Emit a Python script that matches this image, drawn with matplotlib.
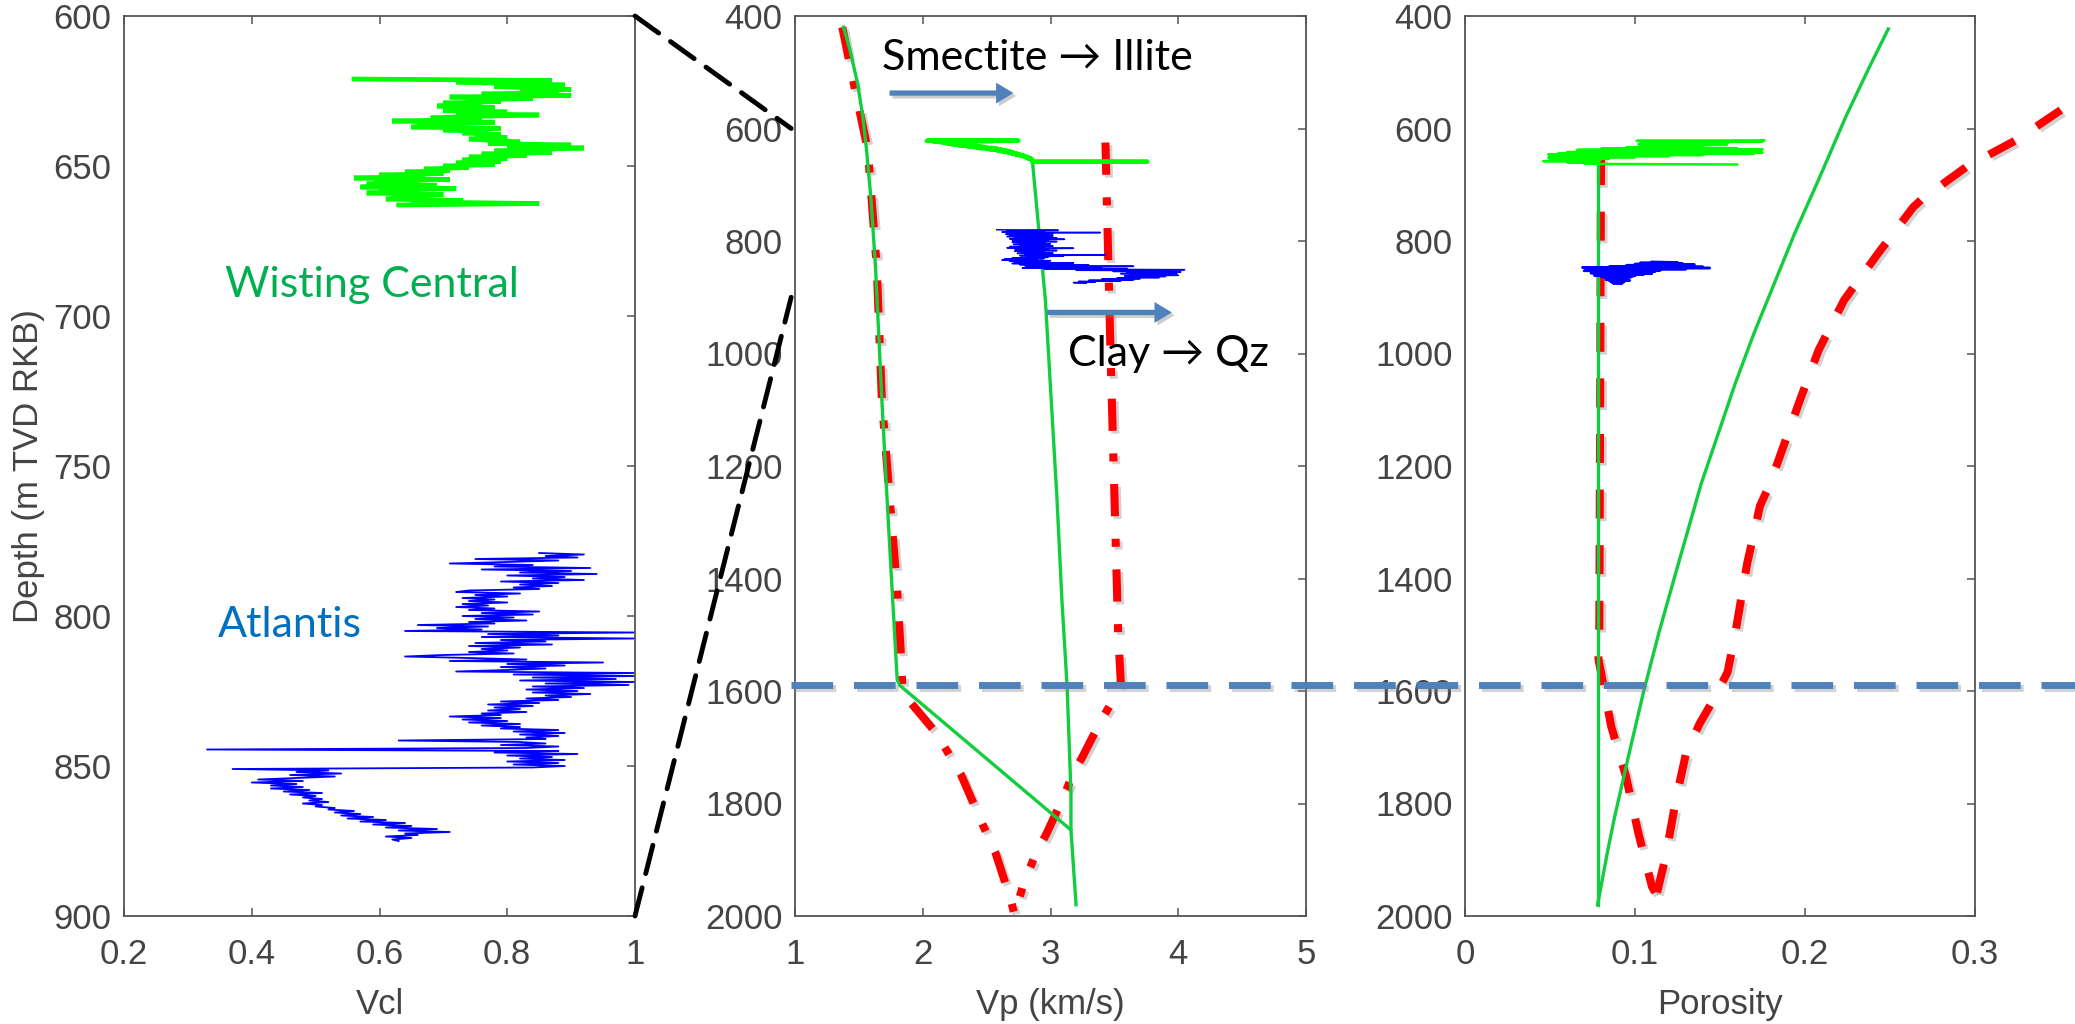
import numpy as np
import matplotlib
matplotlib.use("Agg")
import matplotlib.pyplot as plt
from matplotlib.patches import ConnectionPatch
from matplotlib.lines import Line2D
from matplotlib import patheffects as pe
from matplotlib.transforms import blended_transform_factory

# ---------------------------------------------------------------- data
# Vcl logs (left panel): regular depth sampling from a top depth
wisting_vcl_top, wisting_vcl_step = 621.0, 0.5
wisting_vcl = [
    0.56, 0.87, 0.72, 0.80, 0.89, 0.78, 0.85, 0.90, 0.82, 0.88,
    0.76, 0.90, 0.71, 0.84, 0.74, 0.79, 0.70, 0.76, 0.69, 0.78,
    0.73, 0.70, 0.80, 0.72, 0.85, 0.74, 0.68, 0.76, 0.62, 0.78,
    0.66, 0.73, 0.65, 0.79, 0.70, 0.77, 0.73, 0.79, 0.75, 0.80,
    0.74, 0.78, 0.82, 0.77, 0.90, 0.80, 0.92, 0.84, 0.78, 0.87,
    0.76, 0.83, 0.74, 0.80, 0.73, 0.79, 0.72, 0.78, 0.70, 0.74,
    0.67, 0.71, 0.64, 0.70, 0.60, 0.67, 0.56, 0.71, 0.59, 0.66,
    0.58, 0.69, 0.57, 0.72, 0.60, 0.66, 0.58, 0.70, 0.62, 0.67,
    0.61, 0.73, 0.65, 0.85, 0.63,
]

atlantis_vcl_top, atlantis_vcl_step = 779.0, 0.5
atlantis_vcl = [
    0.85, 0.92, 0.86, 0.91, 0.75, 0.88, 0.80, 0.71, 0.84, 0.78,
    0.93, 0.76, 0.90, 0.82, 0.94, 0.80, 0.89, 0.84, 0.92, 0.79,
    0.88, 0.82, 0.87, 0.81, 0.85, 0.74, 0.72, 0.82, 0.75, 0.80,
    0.73, 0.78, 0.74, 0.80, 0.73, 0.77, 0.72, 0.78, 0.74, 0.85,
    0.76, 0.84, 0.73, 0.81, 0.75, 0.83, 0.74, 0.78, 0.66, 0.77,
    0.69, 0.76, 0.64, 1.00, 0.77, 0.88, 0.76, 1.00, 0.79, 0.86,
    0.75, 0.87, 0.74, 0.82, 0.76, 0.80, 0.74, 0.81, 0.70, 0.64,
    0.74, 0.83, 0.71, 0.95, 0.80, 0.89, 0.79, 0.86, 0.80, 0.72,
    1.00, 0.81, 1.00, 0.84, 0.97, 0.82, 1.00, 0.86, 0.99, 0.84,
    0.92, 0.83, 0.91, 0.84, 0.93, 0.86, 0.90, 0.83, 0.88, 0.79,
    0.85, 0.77, 0.84, 0.78, 0.82, 0.77, 0.83, 0.76, 0.79, 0.71,
    0.79, 0.73, 0.80, 0.74, 0.82, 0.76, 0.82, 0.79, 0.88, 0.81,
    0.89, 0.82, 0.88, 0.83, 0.86, 0.63, 0.82, 0.86, 0.79, 0.88,
    0.83, 0.33, 0.88, 0.78, 0.91, 0.80, 0.87, 0.82, 0.89, 0.80,
    0.88, 0.81, 0.89, 0.84, 0.37, 0.52, 0.47, 0.54, 0.46, 0.53,
    0.47, 0.41, 0.48, 0.40, 0.47, 0.43, 0.48, 0.43, 0.49, 0.45,
    0.51, 0.46, 0.50, 0.48, 0.51, 0.49, 0.52, 0.48, 0.51, 0.50,
    0.53, 0.52, 0.56, 0.53, 0.57, 0.54, 0.59, 0.55, 0.61, 0.57,
    0.64, 0.59, 0.65, 0.61, 0.69, 0.63, 0.71, 0.64, 0.66, 0.61,
    0.65, 0.62, 0.63,
]

# Vp logs (middle panel)
wisting_vp_top, wisting_vp_step = 621.0, 0.5
wisting_vp = [
    2.05, 2.75, 2.03, 2.55, 2.08, 2.40, 2.12, 2.30, 2.15, 2.35,
    2.18, 2.30, 2.20, 2.38, 2.22, 2.33, 2.25, 2.40, 2.28, 2.42,
    2.30, 2.45, 2.35, 2.48, 2.40, 2.50, 2.42, 2.55, 2.45, 2.58,
    2.50, 2.60, 2.52, 2.62, 2.55, 2.65, 2.58, 2.66, 2.60, 2.68,
    2.62, 2.70, 2.65, 2.71, 2.67, 2.72, 2.69, 2.74, 2.70, 2.75,
    2.72, 2.77, 2.74, 2.78, 2.76, 2.80, 2.78, 2.81, 2.79, 2.82,
    2.80, 2.83, 2.81, 2.84, 2.82, 2.85, 2.83, 2.85, 2.84, 2.86,
    2.85, 2.86, 2.86, 2.86, 2.86, 2.87, 3.76, 2.87, 2.86,
]

atlantis_vp_top, atlantis_vp_step = 780.0, 1.0
atlantis_vp = [
    2.58, 3.06, 2.66, 2.95, 2.62, 3.39, 2.70, 3.02, 2.65, 2.98,
    2.68, 3.02, 2.66, 2.95, 2.72, 3.05, 2.68, 3.11, 2.70, 2.98,
    2.74, 3.05, 2.70, 2.96, 2.75, 3.00, 2.71, 2.92, 2.76, 3.02,
    2.68, 2.95, 2.66, 3.18, 2.72, 2.98, 2.75, 3.05, 2.72, 2.95,
    2.78, 3.02, 2.74, 2.96, 2.80, 3.43, 2.76, 3.10, 2.82, 2.98,
    2.70, 2.95, 2.64, 2.90, 2.62, 3.00, 2.68, 2.92, 2.72, 3.18,
    2.70, 3.05, 2.76, 3.30, 2.80, 3.65, 2.85, 3.40, 2.78, 3.60,
    2.95, 4.05, 3.20, 3.95, 3.49, 4.02, 3.60, 3.99, 3.55, 3.95,
    3.62, 4.00, 3.58, 3.90, 3.60, 3.85, 3.52, 3.70, 3.40, 3.65,
    3.30, 3.55, 3.22, 3.35, 3.18, 3.28,
]

# Porosity logs (right panel)
wisting_phi_top, wisting_phi_step = 621.0, 1.0
wisting_phi = [
    0.176, 0.101, 0.175, 0.103, 0.155, 0.110, 0.150, 0.102, 0.154, 0.115,
    0.140, 0.105, 0.130, 0.095, 0.160, 0.080, 0.175, 0.066, 0.150, 0.070,
    0.165, 0.060, 0.175, 0.055, 0.170, 0.049, 0.140, 0.052, 0.120, 0.050,
    0.100, 0.049, 0.085, 0.055, 0.080, 0.050, 0.075, 0.046, 0.079, 0.060,
    0.078, 0.070, 0.079, 0.160,
]

atlantis_phi_top, atlantis_phi_step = 837.0, 1.0
atlantis_phi = [
    0.110, 0.125, 0.103, 0.128, 0.100, 0.135, 0.095, 0.130, 0.085, 0.140,
    0.069, 0.144, 0.075, 0.130, 0.072, 0.115, 0.070, 0.112, 0.078, 0.108,
    0.074, 0.110, 0.080, 0.105, 0.076, 0.100, 0.080, 0.098, 0.082, 0.096,
    0.084, 0.095, 0.083, 0.097, 0.085, 0.094, 0.086, 0.093, 0.087, 0.092,
]

# Compaction trends, Vp (km/s) vs depth (m)
trend_vp_shallow_depth = [420, 460, 520, 578, 638, 726, 846, 964, 1083, 1255,
                          1379, 1580, 1590, 1847]
trend_vp_shallow = [1.38, 1.43, 1.49, 1.53, 1.56, 1.595, 1.63, 1.655, 1.68,
                    1.72, 1.75, 1.80, 1.82, 3.16]
trend_vp_deep_depth = [662, 905, 1255, 1441, 1592, 1780, 1847, 1980]
trend_vp_deep = [2.86, 2.96, 3.05, 3.09, 3.13, 3.16, 3.16, 3.20]

bound_vp_low_depth = [420, 520, 638, 846, 1083, 1255, 1420, 1540, 1590, 1611,
                      1676, 1749, 1838, 1888, 1972, 2000]
bound_vp_low = [1.37, 1.46, 1.57, 1.64, 1.68, 1.74, 1.80, 1.83, 1.84, 1.87,
                2.11, 2.30, 2.47, 2.57, 2.69, 2.72]
bound_vp_high_depth = [625, 1000, 1250, 1500, 1583, 1604, 1655, 1717, 1746,
                       1794, 1853, 1892, 1942, 1965]
bound_vp_high = [3.43, 3.47, 3.50, 3.53, 3.55, 3.52, 3.39, 3.25, 3.18,
                 3.09, 2.97, 2.88, 2.79, 2.76]

# Compaction trends, porosity vs depth (m)
trend_phi_depth = [423, 490, 579, 691, 786, 875, 964, 1053, 1142, 1231,
                   1379, 1497, 1602, 1705, 1824, 1883, 1980]
trend_phi = [0.249, 0.238, 0.224, 0.208, 0.194, 0.182, 0.170, 0.159, 0.149,
             0.139, 0.125, 0.114, 0.105, 0.097, 0.088, 0.084, 0.078]
trend_phi_floor_depth = [664, 1980]
trend_phi_floor = [0.078, 0.078]

bound_phi_low_depth = [649, 1500, 1543, 1663, 1752, 1853, 1948, 1958]
bound_phi_low = [0.080, 0.079, 0.0785, 0.086, 0.0947, 0.102, 0.110, 0.112]
bound_phi_high_depth = [1958, 1895, 1794, 1711, 1658, 1611, 1566, 1497, 1373,
                        1271, 1231, 1083, 994, 905, 822, 740, 725, 668, 620,
                        561, 540]
bound_phi_high = [0.113, 0.118, 0.124, 0.130, 0.138, 0.147, 0.1545, 0.159,
                  0.166, 0.1735, 0.1795, 0.197, 0.208, 0.223, 0.243, 0.2636,
                  0.269, 0.295, 0.3246, 0.3535, 0.366]

transition_depth = 1590

vcl_ticks = [0.2, 0.4, 0.6, 0.8, 1.0]
vcl_ticklabels = ["0.2", "0.4", "0.6", "0.8", "1"]
vp_ticks = [1, 2, 3, 4, 5]
phi_ticks = [0, 0.1, 0.2, 0.3]
phi_ticklabels = ["0", "0.1", "0.2", "0.3"]
depth_ticks_zoom = [600, 650, 700, 750, 800, 850, 900]
depth_ticks = [400, 600, 800, 1000, 1200, 1400, 1600, 1800, 2000]


def depths(top, step, values):
    return top + step * np.arange(len(values))


# ---------------------------------------------------------------- style
plt.rcParams["font.family"] = ["Liberation Sans", "DejaVu Sans"]
TXT = "#444444"
SPINE = "#555555"
LOG_GREEN = "#00FF00"
LOG_BLUE = "#0000FF"
TREND_GREEN = "#14CC40"
RED = "#FF0000"
ARROW_BLUE = "#4F81BD"
ANNOT_FONT = ["Lato", "DejaVu Sans"]

fig = plt.figure(figsize=(20.75, 10.24), dpi=100)
fig.patch.set_facecolor("white")

bottom, height = 1 - 916 / 1024, 900 / 1024
ax1 = fig.add_axes([124 / 2075, bottom, 511 / 2075, height])
ax2 = fig.add_axes([795 / 2075, bottom, 511 / 2075, height])
ax3 = fig.add_axes([1465 / 2075, bottom, 510 / 2075, height])


def style_axes(ax, xlim, xticks, xticklabels, ylim, yticks, xlabel):
    ax.set_xlim(*xlim)
    ax.set_ylim(ylim[1], ylim[0])
    ax.set_xticks(xticks)
    ax.set_xticklabels(xticklabels)
    ax.set_yticks(yticks)
    ax.tick_params(axis="both", direction="in", length=5.5, width=1.1,
                   color=SPINE, labelcolor=TXT, labelsize=25)
    ax.tick_params(axis="x", top=True, bottom=True, pad=16)
    ax.tick_params(axis="y", left=False, right=True, pad=9)
    for sp in ax.spines.values():
        sp.set_color(SPINE)
        sp.set_linewidth(1.3)
    ax.set_xlabel(xlabel, fontsize=25, color=TXT, labelpad=12)


style_axes(ax1, (0.2, 1.0), vcl_ticks, vcl_ticklabels, (600, 900),
           depth_ticks_zoom, "Vcl")
style_axes(ax2, (1, 5), vp_ticks, [str(t) for t in vp_ticks], (400, 2000),
           depth_ticks, "Vp (km/s)")
style_axes(ax3, (0, 0.3), phi_ticks, phi_ticklabels, (400, 2000),
           depth_ticks, "Porosity")
ax1.set_ylabel("Depth (m TVD RKB)", fontsize=25, color=TXT, labelpad=6)

shadow = [pe.SimpleLineShadow(offset=(2, -2), shadow_color="gray", alpha=0.35),
          pe.Normal()]

# ---------------------------------------------------------------- left: Vcl
ax1.plot(wisting_vcl, depths(wisting_vcl_top, wisting_vcl_step, wisting_vcl),
         color=LOG_GREEN, lw=3.4, solid_joinstyle="miter")
ax1.plot(atlantis_vcl, depths(atlantis_vcl_top, atlantis_vcl_step, atlantis_vcl),
         color=LOG_BLUE, lw=1.3)
ax1.text(0.588, 693.5, "Wisting Central", color="#00B050", fontsize=31,
         family=ANNOT_FONT, ha="center", va="baseline")
ax1.text(0.46, 807, "Atlantis", color="#0070C0", fontsize=31,
         family=ANNOT_FONT, ha="center", va="baseline")

# ---------------------------------------------------------------- middle: Vp
dashdot = (0, (4.0, 2.8, 1, 2.8))
ax2.plot(bound_vp_low, bound_vp_low_depth, color=RED, lw=5.8, ls=dashdot,
         path_effects=shadow)
ax2.plot(bound_vp_high, bound_vp_high_depth, color=RED, lw=5.8, ls=dashdot,
         path_effects=shadow)
ax2.plot(trend_vp_shallow, trend_vp_shallow_depth, color=TREND_GREEN, lw=2.4)
ax2.plot(trend_vp_deep, trend_vp_deep_depth, color=TREND_GREEN, lw=2.4)
ax2.plot(wisting_vp, depths(wisting_vp_top, wisting_vp_step, wisting_vp),
         color=LOG_GREEN, lw=3.0)
ax2.plot(atlantis_vp, depths(atlantis_vp_top, atlantis_vp_step, atlantis_vp),
         color=LOG_BLUE, lw=1.1)

ax2.text(2.894, 496, "Smectite \u2192 Illite", color="black", fontsize=31,
         family=ANNOT_FONT, ha="center", va="baseline")
ax2.text(3.92, 1023, "Clay \u2192 Qz", color="black", fontsize=31,
         family=ANNOT_FONT, ha="center", va="baseline")

arrow_style = "simple,head_length=1.25,head_width=1.5,tail_width=0.38"
for x0, x1, d in [(1.74, 2.71, 537), (2.97, 3.95, 927)]:
    ann = ax2.annotate("", xy=(x1, d), xytext=(x0, d),
                       arrowprops=dict(arrowstyle=arrow_style, mutation_scale=10,
                                       color=ARROW_BLUE, lw=0,
                                       shrinkA=0, shrinkB=0))
    ann.arrow_patch.set_path_effects(
        [pe.SimplePatchShadow(offset=(2, -2), shadow_rgbFace="gray", alpha=0.4),
         pe.Normal()])

# ---------------------------------------------------------------- right: porosity
ax3.plot(bound_phi_low, bound_phi_low_depth, color=RED, lw=5.8,
         ls=(0, (3.6, 3.3)), path_effects=shadow)
ax3.plot(bound_phi_high, bound_phi_high_depth, color=RED, lw=5.8,
         ls=(0, (3.6, 3.3)), clip_on=False, path_effects=shadow)
ax3.plot(trend_phi, trend_phi_depth, color=TREND_GREEN, lw=2.4)
ax3.plot(trend_phi_floor, trend_phi_floor_depth, color=TREND_GREEN, lw=2.4)
ax3.plot(wisting_phi, depths(wisting_phi_top, wisting_phi_step, wisting_phi),
         color=LOG_GREEN, lw=1.8)
ax3.plot(atlantis_phi, depths(atlantis_phi_top, atlantis_phi_step, atlantis_phi),
         color=LOG_BLUE, lw=1.8)

# ---------------------------------------------------------------- zoom guides
for d in (600, 900):
    cp = ConnectionPatch(xyA=(1.0, d), coordsA=ax1.transData,
                         xyB=(0.97, d), coordsB=ax2.transData,
                         color="black", lw=3.5, linestyle=(0, (6, 3)))
    fig.add_artist(cp)

# transition depth marker running across the right-hand panels
trans = blended_transform_factory(fig.transFigure, ax2.transData)
hline = Line2D([791 / 2075, 1.0], [transition_depth, transition_depth],
               transform=trans, color=ARROW_BLUE, lw=5, linestyle=(0, (6, 3)),
               clip_on=False, zorder=5, path_effects=shadow)
fig.add_artist(hline)

fig.savefig("out.png", dpi=100, facecolor="white")
